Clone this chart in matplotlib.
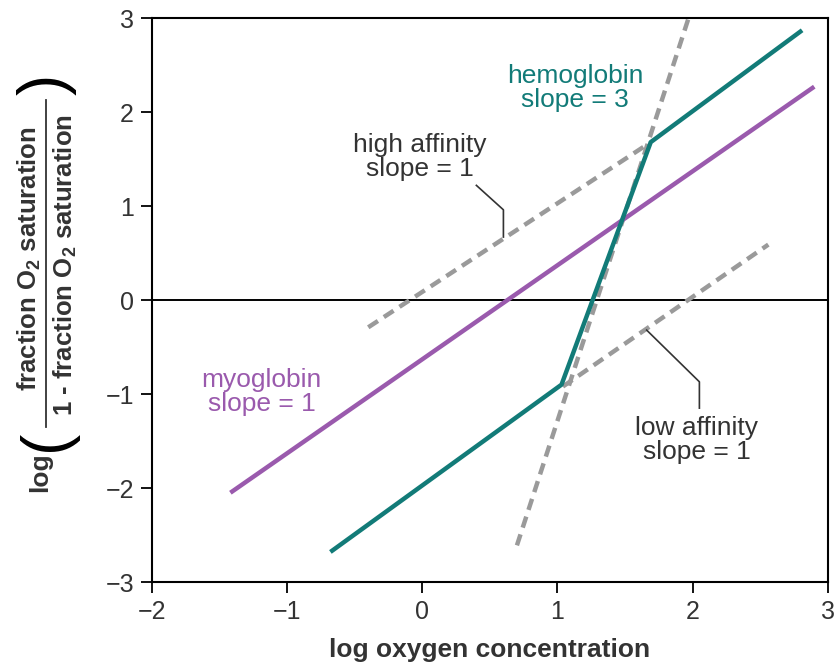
import matplotlib.pyplot as plt
from matplotlib.lines import Line2D

plt.rcParams['font.family'] = ['Liberation Sans', 'DejaVu Sans']
plt.rcParams['mathtext.fontset'] = 'custom'
plt.rcParams['mathtext.rm'] = 'Liberation Sans'
plt.rcParams['mathtext.bf'] = 'Liberation Sans:bold'

# data
myo_x = [-1.42, 2.90]
myo_y = [-2.05, 2.27]
hemo_x = [-0.68, 1.03, 1.69, 2.81]
hemo_y = [-2.68, -0.90, 1.68, 2.87]
high_x = [-0.40, 1.68]
high_y = [-0.29, 1.67]
low_x = [1.04, 2.56]
low_y = [-0.92, 0.59]
steep_x = [0.70, 1.97]
steep_y = [-2.61, 3.00]
xticks = [-2, -1, 0, 1, 2, 3]
yticks = [-3, -2, -1, 0, 1, 2, 3]

teal = '#127b78'
purple = '#9a5aad'
gray = '#9a9a9a'
txt = '#333333'

fig = plt.figure(figsize=(8.37, 6.69), dpi=100)
ax = fig.add_axes([0.1816, 0.130, 0.8074, 0.843])

ax.axhline(0, color='black', lw=1.4, zorder=1)
dash = dict(color=gray, lw=3.2, dashes=(2.6, 1.6), zorder=2)
ax.plot(high_x, high_y, **dash)
ax.plot(low_x, low_y, **dash)
ax.plot(steep_x, steep_y, **dash)
ax.plot(myo_x, myo_y, color=purple, lw=3.2, solid_capstyle='butt', zorder=3)
ax.plot(hemo_x, hemo_y, color=teal, lw=3.2, solid_capstyle='butt', zorder=4)

# leader lines
ax.plot([0.40, 0.60, 0.60], [1.22, 0.96, 0.67], color=txt, lw=1.2, zorder=5)
ax.plot([1.66, 2.05, 2.05], [-0.32, -0.87, -1.15], color=txt, lw=1.2, zorder=5)

fs = 19
ax.text(1.13, 2.26, 'hemoglobin\nslope = 3', color=teal, fontsize=fs,
        ha='center', va='center', linespacing=1.0)
ax.text(-0.02, 1.52, 'high affinity\nslope = 1', color=txt, fontsize=fs,
        ha='center', va='center', linespacing=1.0)
ax.text(-1.19, -0.98, 'myoglobin\nslope = 1', color=purple, fontsize=fs,
        ha='center', va='center', linespacing=1.0)
ax.text(2.03, -1.49, 'low affinity\nslope = 1', color=txt, fontsize=fs,
        ha='center', va='center', linespacing=1.0)

ax.set_xlim(-2, 3)
ax.set_ylim(-3, 3)
ax.set_xticks(xticks)
ax.set_yticks(yticks)
ax.tick_params(direction='out', length=8, width=1.3, labelsize=18,
               colors='black', labelcolor=txt, pad=5)
for s in ax.spines.values():
    s.set_linewidth(1.5)

ax.set_xlabel('log oxygen concentration', fontsize=19, fontweight='bold',
              color=txt, labelpad=10)

# y label built from pieces: log ( fraction / 1 - fraction )
W, H = 837, 669


def fx(px):
    return px / W


def fy(py):
    return 1 - py / H


fig.text(fx(40), fy(472), 'log', rotation=90, fontsize=19, fontweight='bold',
         color=txt, ha='center', va='center')
fig.text(fx(29), fy(259), r'fraction O$_\mathbf{2}$ saturation', rotation=90,
         fontsize=18.5, fontweight='bold', color=txt, ha='center', va='center')
fig.text(fx(65), fy(265), r'1 - fraction O$_\mathbf{2}$ saturation', rotation=90,
         fontsize=18.5, fontweight='bold', color=txt, ha='center', va='center')
fig.add_artist(Line2D([fx(46), fx(46)], [fy(100), fy(427)], color=txt, lw=1.3))
fig.text(fx(47), fy(440), '(', rotation=90, fontsize=46, color='black',
         ha='center', va='center')
fig.text(fx(47), fy(84), ')', rotation=90, fontsize=46, color='black',
         ha='center', va='center')

fig.savefig('out.png', dpi=100)
